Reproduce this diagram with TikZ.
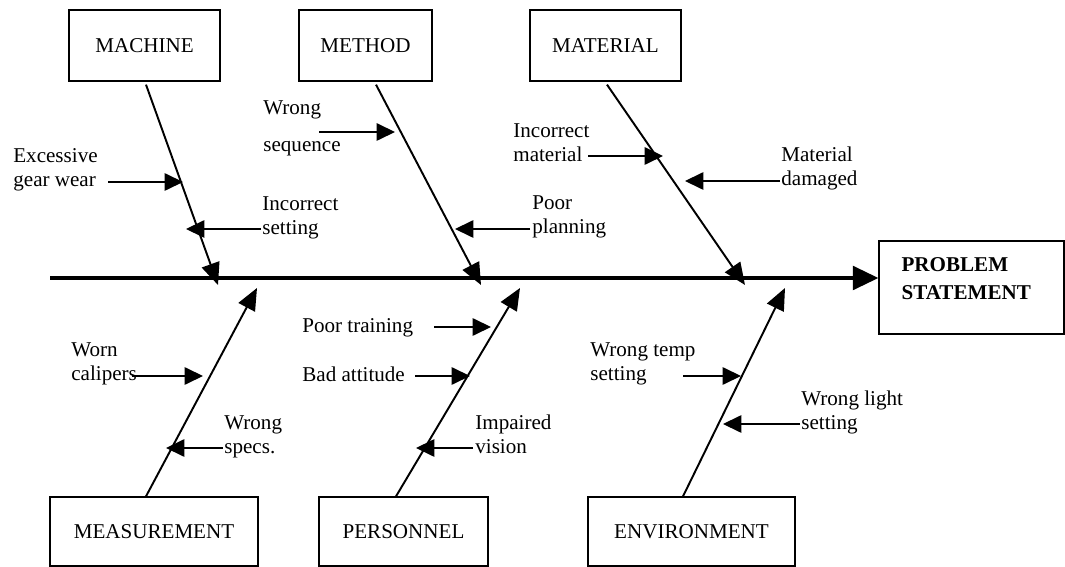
\documentclass[tikz,border=0pt]{standalone}
\usepackage{fontspec}
\setmainfont{Liberation Serif}
\usetikzlibrary{arrows.meta}

\begin{document}
\begin{tikzpicture}[x=0.02cm,y=-0.02cm,
  font=\fontsize{12pt}{14.2pt}\selectfont,
  box/.style={draw,line width=0.75pt,inner sep=0pt,minimum height=1.42cm},
  lowbox/.style={box,minimum height=1.38cm},
  spine/.style={line width=1.8pt,-{Triangle[length=14.5pt,width=13.5pt]}},
  bone/.style={line width=1.1pt,-{Triangle[length=12.5pt,width=10.5pt]}},
  cause/.style={line width=0.75pt,-{Triangle[length=10.5pt,width=10pt]}},
  lbl/.style={inner sep=0pt,align=left,anchor=base west}]

\useasboundingbox (0,0) rectangle (1065,567);

% category boxes
  \node[box,minimum width=3.02cm] (machine)  at (144.5,45.5) {MACHINE};
  \node[box,minimum width=2.66cm] (method)   at (365.5,45.5) {METHOD};
  \node[box,minimum width=3.02cm] (material) at (605.5,45.5) {MATERIAL};
  \node[lowbox,minimum width=4.16cm] (measure) at (154,531.5)   {MEASUREMENT};
  \node[lowbox,minimum width=3.38cm] (person)  at (403.5,531.5) {PERSONNEL};
  \node[lowbox,minimum width=4.14cm] (environ) at (691.5,531.5) {ENVIRONMENT};
  \node[box,minimum width=3.7cm,minimum height=1.86cm,align=left,font=\bfseries\fontsize{12pt}{14.2pt}\selectfont]
       (problem) at (971.5,287.5) {PROBLEM\\[2pt]STATEMENT\hspace*{6pt}\rule[-10pt]{0pt}{0pt}};

% main bone
  \coordinate (tail) at (50,278);
  \draw[spine] (tail) -- (tail -| problem.west);

% ends of the bones on the spine
  \coordinate (t1) at (218,285);
  \coordinate (t2) at (481,285);
  \coordinate (t3) at (745,285);
  \coordinate (b1) at (257,288);
  \coordinate (b2) at (520,288);
  \coordinate (b3) at (785,288);

  \draw[bone] ([shift={(1.5,3)}]machine.south)  -- (t1);
  \draw[bone] ([shift={(10.5,3)}]method.south)  -- (t2);
  \draw[bone] ([shift={(1.5,3)}]material.south) -- (t3);
  \draw[bone] ([shift={(-8,0)}]measure.north)   -- (b1);
  \draw[bone] ([shift={(-7.5,0)}]person.north)  -- (b2);
  \draw[bone] ([shift={(-8.5,0)}]environ.north) -- (b3);

% machine causes
  \node[lbl] (gear) at (13,187) {Excessive\\gear wear};
  \coordinate (gear1) at (108,182); \coordinate (gear2) at (183,182);
  \draw[cause] (gear1) -- (gear2);
  \node[lbl] (setg) at (262,235) {Incorrect\\setting};
  \coordinate (setg1) at (261,229); \coordinate (setg2) at (186,229);
  \draw[cause] (setg1) -- (setg2);

% method causes
  \node[lbl] (seq) at (263,152) {Wrong\\[7pt]sequence};
  \coordinate (seq1) at (319,132); \coordinate (seq2) at (395,132);
  \draw[cause] (seq1) -- (seq2);
  \node[lbl] (plan) at (532,234) {Poor\\planning};
  \coordinate (plan1) at (530,229); \coordinate (plan2) at (455,229);
  \draw[cause] (plan1) -- (plan2);

% material causes
  \node[lbl] (mat) at (513,162) {Incorrect\\material};
  \coordinate (mat1) at (588,156); \coordinate (mat2) at (663,156);
  \draw[cause] (mat1) -- (mat2);
  \node[lbl] (dmg) at (781,186) {Material\\damaged};
  \coordinate (dmg1) at (780,181); \coordinate (dmg2) at (685,181);
  \draw[cause] (dmg1) -- (dmg2);

% measurement causes
  \node[lbl] (cal) at (71,381) {Worn\\calipers};
  \coordinate (cal1) at (132,376); \coordinate (cal2) at (203,376);
  \draw[cause] (cal1) -- (cal2);
  \node[lbl] (spec) at (224,454) {Wrong\\specs.};
  \coordinate (spec1) at (223,448); \coordinate (spec2) at (166,448);
  \draw[cause] (spec1) -- (spec2);

% personnel causes
  \node[lbl] (train) at (302,333) {Poor training};
  \coordinate (train1) at (434,327); \coordinate (train2) at (491,327);
  \draw[cause] (train1) -- (train2);
  \node[lbl] (att) at (302,382) {Bad attitude};
  \coordinate (att1) at (415,376); \coordinate (att2) at (470,376);
  \draw[cause] (att1) -- (att2);
  \node[lbl] (vis) at (475,454) {Impaired\\vision};
  \coordinate (vis1) at (473,448); \coordinate (vis2) at (416,448);
  \draw[cause] (vis1) -- (vis2);

% environment causes
  \node[lbl] (temp) at (590,381) {Wrong temp\\setting};
  \coordinate (temp1) at (683,376); \coordinate (temp2) at (741,376);
  \draw[cause] (temp1) -- (temp2);
  \node[lbl] (light) at (801,430) {Wrong light\\setting};
  \coordinate (light1) at (800,424); \coordinate (light2) at (723,424);
  \draw[cause] (light1) -- (light2);

\end{tikzpicture}
\end{document}
